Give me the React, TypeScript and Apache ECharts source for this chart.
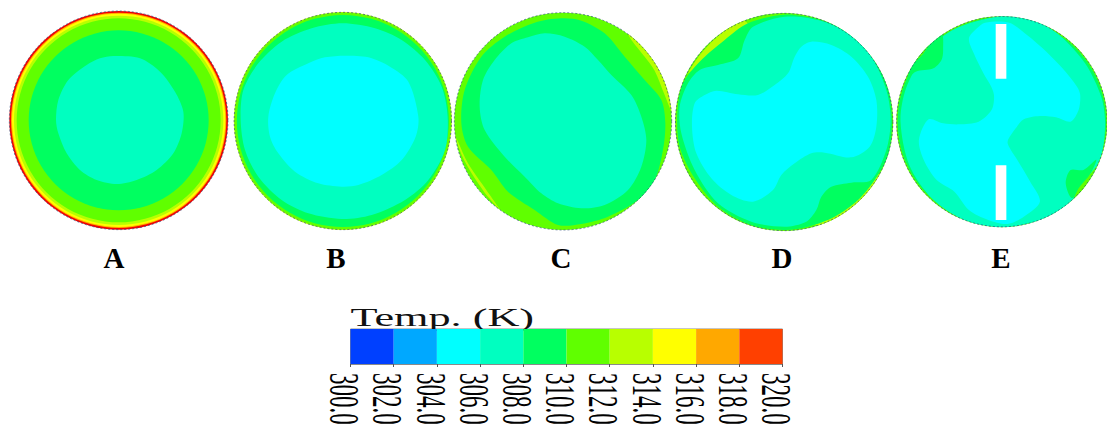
import React, { useEffect, useRef } from "react";
import * as echarts from "echarts";

type Pt = number[];
type Layer = { temp: number; radius?: number; pts?: Pt[]; hard?: boolean };

// Colour bar
const bandStarts = [300, 302, 304, 306, 308, 310, 312, 314, 316, 318];
const bandColors = ["#0040ff", "#00a8ff", "#00ffff", "#00ffc0", "#00ff60", "#60ff00", "#b8ff00", "#ffff00", "#ffa800", "#ff4000"];
const tickLabels = ["300.0", "302.0", "304.0", "306.0", "308.0", "310.0", "312.0", "314.0", "316.0", "318.0", "320.0"];
const WALL = 320;
const WALL_COLOR = "#f40000";
const WHITE = -1;

// Section A: concentric bands (radius in scan units)
const aRadii = [328, 323, 320, 314, 306, 270];
const aTemps = [WALL, 316, 314, 312, 310, 308];
const aCore: Pt[] = [[340,168],[420,175],[480,215],[525,275],[550,335],[545,400],[520,460],[470,510],[410,540],[350,552],[290,540],[240,510],[200,460],[175,400],[168,360],[175,300],[205,240],[260,195],[300,175]];

// Section B
const bOuter: Pt[] = [[353,70],[450,85],[530,120],[600,180],[650,260],[668,350],[660,450],[610,540],[540,600],[440,645],[350,657],[250,640],[170,600],[100,530],[60,450],[47,360],[55,270],[100,190],[170,125],[260,85]];
const bCore: Pt[] = [[360,167],[430,172],[495,200],[550,245],[580,350],[572,410],[530,480],[470,525],[400,555],[350,560],[280,550],[210,515],[160,460],[135,410],[130,350],[150,280],[185,225],[250,190],[300,172]];

// Section C
const cWedgeUpper: Pt[] = [[540,100],[600,150],[635,200],[662,270],[675,345],[650,285],[620,212],[590,170],[552,122]];
const cWedgeLower: Pt[] = [[18,400],[48,480],[108,575],[155,628],[115,570],[60,490],[30,425]];
const cMiddle: Pt[] = [[340,55],[400,62],[470,100],[530,170],[590,240],[640,300],[652,370],[645,450],[620,540],[570,600],[480,650],[400,672],[330,675],[260,630],[180,575],[130,510],[60,440],[40,370],[50,270],[100,170],[170,110],[260,68]];
const cCore: Pt[] = [[290,100],[350,110],[410,140],[450,180],[490,225],[550,285],[580,350],[595,420],[580,500],[540,570],[470,615],[400,625],[330,610],[280,580],[230,530],[170,470],[110,390],[95,320],[105,240],[140,180],[190,130],[240,112]];

// Section D
const dWedgeUpper: Pt[] = [[60,220],[100,160],[160,100],[220,60],[240,75],[170,125],[110,180],[80,205]];
const dWedgeLower: Pt[] = [[640,520],[600,580],[540,640],[470,680],[440,670],[510,620],[570,570],[620,530]];
const dMiddle: Pt[] = [[348,44],[450,58],[540,95],[615,165],[660,265],[672,366],[660,465],[620,540],[570,600],[500,650],[420,680],[348,690],[250,675],[150,620],[80,535],[35,440],[28,340],[45,250],[95,185],[170,120],[240,70]];
const dAqua: Pt[] = [[255,80],[350,50],[450,60],[540,100],[610,170],[655,270],[668,360],[655,450],[610,540],[550,548],[490,560],[460,590],[445,630],[415,665],[350,680],[250,665],[150,610],[80,510],[40,400],[35,320],[60,250],[95,210],[150,195],[210,175],[230,120]];
const dCore: Pt[] = [[430,125],[490,135],[550,170],[600,230],[625,300],[625,380],[605,440],[550,472],[470,458],[430,460],[380,490],[340,525],[315,570],[255,605],[190,585],[130,535],[85,460],[72,380],[80,310],[110,285],[145,272],[210,283],[270,285],[320,255],[360,220],[380,170],[400,140]];

// Section E
const eWedgeUpper: Pt[] = [[75,190],[110,140],[160,95],[130,130],[105,165]];
const eWedgeLower: Pt[] = [[645,500],[610,560],[575,600],[590,565],[620,530]];
const ePatchUpper: Pt[] = [[165,100],[170,150],[165,180],[140,205],[85,215],[60,235],[85,170],[120,130]];
const ePatchLower: Pt[] = [[645,480],[605,510],[565,510],[550,550],[570,595],[610,550]];
const eAqua: Pt[] = [[352,48],[450,60],[530,105],[610,190],[660,290],[672,365],[662,460],[625,535],[565,605],[490,655],[352,682],[235,660],[135,595],[65,495],[38,365],[55,265],[112,165],[200,90]];
const eCore: Pt[] = [[300,68],[375,68],[430,105],[490,155],[540,205],[585,260],[595,285],[590,330],[565,365],[520,352],[470,348],[420,358],[395,385],[372,418],[370,430],[380,450],[400,480],[440,545],[470,605],[420,650],[370,672],[310,660],[250,630],[205,575],[150,540],[110,480],[95,420],[125,358],[170,370],[220,373],[280,365],[320,330],[328,290],[320,262],[295,220],[265,160],[250,115],[275,85]];
const eBaffleTop: Pt[] = [[333,72],[366,72],[366,236],[333,236]];
const eBaffleBottom: Pt[] = [[333,496],[366,496],[366,660],[333,660]];

const discNames = ["A", "B", "C", "D", "E"];
const discOffsets = [0, 225, 448, 668, 888];
const discCentres: Pt[] = [[356,361],[353.5,363],[345,364],[348.5,366],[352,365]];
const discRadius = 326;
const nameX = [114, 336, 561, 782, 1001];

const discLayers: Layer[][] = [
  [
    ...aRadii.map((radius, i) => ({ temp: aTemps[i], radius })),
    { temp: 306, pts: aCore },
  ],
  [
    { temp: 312, radius: 327 },
    { temp: 310, radius: 325 },
    { temp: 308, radius: 318 },
    { temp: 306, pts: bOuter },
    { temp: 304, pts: bCore },
  ],
  [
    { temp: 310, radius: 326 },
    { temp: 312, pts: cWedgeUpper },
    { temp: 312, pts: cWedgeLower },
    { temp: 308, pts: cMiddle },
    { temp: 306, pts: cCore },
  ],
  [
    { temp: 310, radius: 327 },
    { temp: 312, pts: dWedgeUpper },
    { temp: 312, pts: dWedgeLower },
    { temp: 308, pts: dMiddle },
    { temp: 306, pts: dAqua },
    { temp: 304, pts: dCore },
  ],
  [
    { temp: 310, radius: 327 },
    { temp: 308, radius: 323 },
    { temp: 306, pts: eAqua },
    { temp: 308, pts: ePatchUpper },
    { temp: 308, pts: ePatchLower },
    { temp: 310, pts: eWedgeUpper },
    { temp: 310, pts: eWedgeLower },
    { temp: 304, pts: eCore },
    { temp: WHITE, pts: eBaffleTop, hard: true },
    { temp: WHITE, pts: eBaffleBottom, hard: true },
  ],
];

function fillOf(temp: number): string {
  if (temp === WHITE) return "#ffffff";
  if (temp === WALL) return WALL_COLOR;
  return bandColors[bandStarts.indexOf(temp)];
}

export default function App() {
  const ref = useRef<HTMLDivElement>(null);
  useEffect(() => {
    const chart = echarts.init(ref.current!, undefined, { renderer: "svg" });
    const grids: any[] = [];
    const xAxes: any[] = [];
    const yAxes: any[] = [];
    const series: any[] = [];

    discNames.forEach((_, d) => {
      const [cx, cy] = discCentres[d];
      grids.push({
        left: discOffsets[d] + (cx - discRadius) / 3,
        top: (cy - discRadius) / 3,
        width: (discRadius * 2) / 3,
        height: (discRadius * 2) / 3,
      });
      xAxes.push({ type: "value", gridIndex: d, show: false, min: cx - discRadius, max: cx + discRadius });
      yAxes.push({ type: "value", gridIndex: d, show: false, inverse: true, min: cy - discRadius, max: cy + discRadius });
      const layers = discLayers[d];
      series.push({
        type: "custom",
        coordinateSystem: "cartesian2d",
        xAxisIndex: d,
        yAxisIndex: d,
        silent: true,
        clip: false,
        data: layers.map((_, i) => [cx, cy, i]),
        renderItem: (params: any, api: any) => {
          const layer = layers[params.dataIndex];
          const c = api.coord([cx, cy]);
          const unit = api.size([1, 0])[0];
          const clipPath = { type: "circle", shape: { cx: c[0], cy: c[1], r: 327 * unit } };
          if (layer.radius) {
            return {
              type: "circle",
              shape: { cx: c[0], cy: c[1], r: layer.radius * unit },
              style: { fill: fillOf(layer.temp) },
            };
          }
          return {
            type: "polygon",
            clipPath,
            shape: { points: layer.pts!.map((p) => api.coord(p)), smooth: layer.hard ? 0 : 0.3 },
            style: { fill: fillOf(layer.temp) },
          };
        },
      });
      // Wall outline of the section
      series.push({
        type: "custom",
        coordinateSystem: "cartesian2d",
        xAxisIndex: d,
        yAxisIndex: d,
        silent: true,
        clip: false,
        data: [[cx, cy]],
        renderItem: (_p: any, api: any) => {
          const c = api.coord([cx, cy]);
          const unit = api.size([1, 0])[0];
          return {
            type: "circle",
            shape: { cx: c[0], cy: c[1], r: (d === 0 ? 328 : 326) * unit },
            style: { fill: "none", stroke: "#2f4f7f", lineWidth: 1, opacity: 0.7, lineDash: [2, 2] },
          };
        },
      });
    });

    // Colour bar
    const b = discNames.length;
    grids.push({ left: 350.5, top: 329, width: 432, height: 35, show: true, borderColor: "#8a8a8a", borderWidth: 1, backgroundColor: "transparent" });
    xAxes.push({
      type: "value", gridIndex: b, min: 300, max: 320, interval: 2, position: "bottom",
      axisLine: { show: true, lineStyle: { color: "#8a8a8a", width: 1 } },
      axisTick: { show: true, length: 3, lineStyle: { color: "#555555", width: 1 } },
      axisLabel: { show: false },
      splitLine: { show: false },
    });
    yAxes.push({ type: "value", gridIndex: b, min: 0, max: 1, show: false });
    series.push({
      type: "custom",
      coordinateSystem: "cartesian2d",
      xAxisIndex: b,
      yAxisIndex: b,
      silent: true,
      data: bandStarts.map((s) => [s, s + 2]),
      renderItem: (params: any, api: any) => {
        const a = api.coord([api.value(0), 1]);
        const e = api.coord([api.value(1), 0]);
        return {
          type: "rect",
          shape: { x: a[0], y: a[1], width: e[0] - a[0], height: e[1] - a[1] },
          style: { fill: bandColors[params.dataIndex] },
        };
      },
    });
    series.push({
      type: "custom",
      coordinateSystem: "cartesian2d",
      xAxisIndex: b,
      yAxisIndex: b,
      silent: true,
      clip: false,
      data: tickLabels.map((t) => [parseFloat(t), 0]),
      renderItem: (params: any, api: any) => {
        const p = api.coord([api.value(0), 0]);
        return {
          type: "text",
          x: p[0] - 6,
          y: 373,
          rotation: -Math.PI / 2,
          scaleY: 1.8,
          style: {
            text: tickLabels[params.dataIndex],
            font: '23px "Liberation Serif"',
            fill: "#000000",
            textAlign: "left",
            textVerticalAlign: "middle",
          },
        };
      },
    });

    chart.setOption({
      animation: false,
      backgroundColor: "#ffffff",
      grid: grids,
      xAxis: xAxes,
      yAxis: yAxes,
      series,
      graphic: [
        ...discNames.map((n, i) => ({
          type: "text",
          x: nameX[i],
          y: 258,
          style: { text: n, font: 'bold 29px "Liberation Serif"', fill: "#000000", textAlign: "center", textVerticalAlign: "middle" },
        })),
        {
          type: "text",
          x: 350.5,
          y: 318,
          scaleX: 1.77,
          style: { text: "Temp. (K)", font: '25px "Liberation Serif"', fill: "#111111", textAlign: "left", textVerticalAlign: "middle" },
        },
      ],
    });
    return () => chart.dispose();
  }, []);
  return <div ref={ref} style={{ position: "fixed", left: 0, top: 0, width: 1107, height: 429 }} />;
}
